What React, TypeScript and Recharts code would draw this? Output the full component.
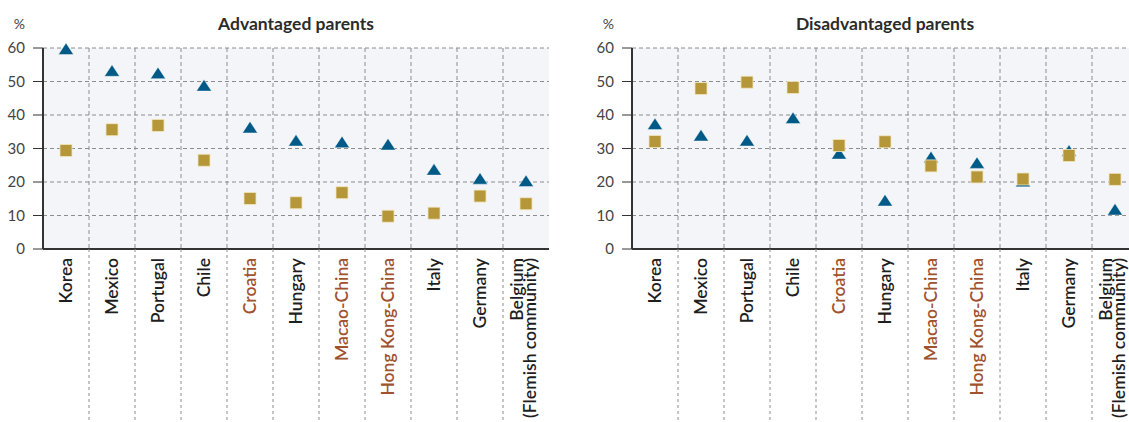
import { CartesianGrid, ComposedChart, Scatter, XAxis, YAxis } from "recharts";

const countries = [
  "Korea",
  "Mexico",
  "Portugal",
  "Chile",
  "Croatia",
  "Hungary",
  "Macao-China",
  "Hong Kong-China",
  "Italy",
  "Germany",
  "Belgium (Flemish community)",
];

// partner economies shown in brown on the axis
const highlighted = ["Croatia", "Macao-China", "Hong Kong-China"];

const yTicks = [0, 10, 20, 30, 40, 50, 60];

const advantagedTriangle = [59.7, 53.2, 52.5, 48.8, 36.3, 32.4, 31.9, 31.2, 23.7, 21.0, 20.3];
const advantagedSquare = [29.4, 35.6, 36.9, 26.5, 15.1, 13.8, 16.8, 9.8, 10.7, 15.8, 13.5];
const disadvantagedTriangle = [37.3, 33.9, 32.4, 39.1, 28.5, 14.5, 27.4, 25.7, 20.2, 29.3, 11.8];
const disadvantagedSquare = [32.1, 47.9, 49.8, 48.2, 30.9, 32.0, 24.8, 21.5, 20.9, 27.9, 20.8];

const BLUE = "#005a87";
const GOLD = "#b5973a";
const BROWN = "#a0522d";
const GRID = "#8c8c8c";
const PLOT_W = 506;
const BAND = PLOT_W / countries.length;
const CHART_H = 422;

function Triangle(props: any) {
  const { cx, cy } = props;
  if (cx == null || cy == null) return null;
  return (
    <polygon
      points={`${cx},${cy - 6} ${cx - 7.5},${cy + 5.5} ${cx + 7.5},${cy + 5.5}`}
      fill={BLUE}
      stroke="#ffffff"
      strokeOpacity={0.5}
      strokeWidth={0.8}
    />
  );
}

function Square(props: any) {
  const { cx, cy } = props;
  if (cx == null || cy == null) return null;
  return (
    <rect
      x={cx - 6}
      y={cy - 6}
      width={12}
      height={12}
      fill={GOLD}
      stroke="#f1e6bf"
      strokeWidth={0.8}
    />
  );
}

function CountryTick(props: any) {
  const { x, y, payload, index } = props;
  const name: string = payload.value;
  const lines = name.startsWith("Belgium") ? ["Belgium", "(Flemish community)"] : [name];
  const color = highlighted.includes(name) ? BROWN : "#1e1e1e";
  // two-line label sits a little left so the second line stays inside the frame
  const base = lines.length > 1 ? x + 3.5 : x + 6;
  return (
    <g>
      {index > 0 && (
        <line
          x1={x - BAND / 2}
          x2={x - BAND / 2}
          y1={y}
          y2={CHART_H}
          stroke={GRID}
          strokeDasharray="3 3"
        />
      )}
      {lines.map((line, i) => (
        <text
          key={line}
          transform={`translate(${base + (i - (lines.length - 1) / 2) * 12.5}, ${y + 9}) rotate(-90)`}
          textAnchor="end"
          fill={color}
          fontSize={17.5}
          fontWeight={600}
        >
          {line}
        </text>
      ))}
    </g>
  );
}

type PanelProps = {
  title: string;
  triangle: number[];
  square: number[];
  left: number;
  width: number;
  yAxisWidth: number;
};

function Panel({ title, triangle, square, left, width, yAxisWidth }: PanelProps) {
  const data = countries.map((country, i) => ({
    country,
    triangle: triangle[i],
    square: square[i],
  }));
  const marginRight = width - yAxisWidth - PLOT_W;
  return (
    <div style={{ position: "absolute", left, top: 0, width, height: CHART_H }}>
      <div
        style={{
          position: "absolute",
          left: yAxisWidth,
          width: PLOT_W,
          top: 14,
          textAlign: "center",
          fontSize: 17.5,
          fontWeight: 700,
          lineHeight: "20px",
          color: "#2b2b2b",
        }}
      >
        {title}
      </div>
      <div
        style={{
          position: "absolute",
          left: 0,
          width: yAxisWidth - 18,
          top: 16,
          textAlign: "right",
          fontSize: 14,
          lineHeight: "16px",
          color: "#444",
        }}
      >
        %
      </div>
      <ComposedChart
        width={width}
        height={CHART_H}
        data={data}
        margin={{ top: 48, right: marginRight, bottom: 0, left: 0 }}
      >
        <CartesianGrid
          fill="#f3f5f8"
          stroke={GRID}
          strokeDasharray="4 3"
          verticalCoordinatesGenerator={({ offset }: any) =>
            countries.slice(1).map((_, i) => offset.left + (i + 1) * (offset.width / countries.length))
          }
        />
        <XAxis
          dataKey="country"
          type="category"
          scale="band"
          interval={0}
          height={173}
          tickLine={false}
          tickSize={0}
          tickMargin={0}
          axisLine={{ stroke: "#333", strokeWidth: 2 }}
          tick={<CountryTick />}
        />
        <XAxis
          xAxisId="top"
          dataKey="country"
          type="category"
          scale="band"
          orientation="top"
          height={0}
          tick={false}
          tickLine={false}
          axisLine={{ stroke: "#555", strokeWidth: 1.5 }}
        />
        <YAxis
          type="number"
          domain={[0, 60]}
          ticks={yTicks}
          interval={0}
          width={yAxisWidth}
          tickSize={10}
          tickMargin={8}
          tickLine={{ stroke: "#333" }}
          axisLine={{ stroke: "#333", strokeWidth: 2 }}
          tick={{ fill: "#444", fontSize: 15 }}
        />
        <YAxis
          yAxisId="right"
          orientation="right"
          type="number"
          domain={[0, 60]}
          width={0}
          tick={false}
          tickLine={false}
          axisLine={{ stroke: "#555", strokeWidth: 1.5 }}
        />
        <Scatter dataKey="triangle" shape={<Triangle />} isAnimationActive={false} />
        <Scatter dataKey="square" shape={<Square />} isAnimationActive={false} />
      </ComposedChart>
    </div>
  );
}

export default function App() {
  return (
    <div
      style={{
        position: "absolute",
        left: 0,
        top: 0,
        width: 1129,
        height: CHART_H,
        overflow: "hidden",
        background: "#fff",
        fontFamily: "Lato, 'Open Sans', sans-serif",
      }}
    >
      <Panel
        title="Advantaged parents"
        triangle={advantagedTriangle}
        square={advantagedSquare}
        left={0}
        width={570}
        yAxisWidth={43}
      />
      <Panel
        title="Disadvantaged parents"
        triangle={disadvantagedTriangle}
        square={disadvantagedSquare}
        left={570}
        width={580}
        yAxisWidth={62}
      />
    </div>
  );
}
